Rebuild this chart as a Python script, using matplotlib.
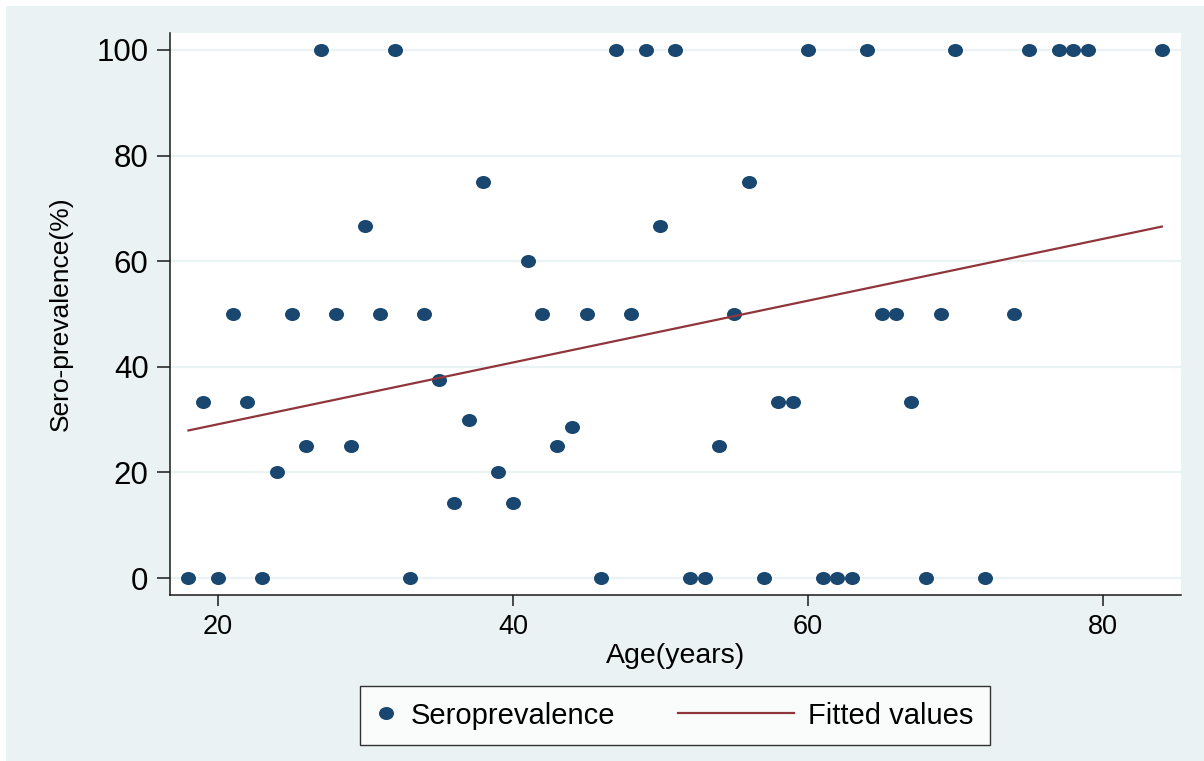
import numpy as np
import matplotlib
matplotlib.use("Agg")
import matplotlib.pyplot as plt
from matplotlib.lines import Line2D
from matplotlib.legend_handler import HandlerLine2D
from matplotlib.markers import MarkerStyle
from matplotlib.path import Path
from matplotlib.transforms import Affine2D
from matplotlib.patches import Rectangle

plt.rcParams['font.family'] = ['Liberation Sans', 'DejaVu Sans']

# data
age = [18, 19, 20, 21, 22, 23, 24, 25, 26, 27, 28, 29, 30, 31, 32, 33, 34, 35,
       36, 37, 38, 39, 40, 41, 42, 43, 44, 45, 46, 47, 48, 49, 50, 51, 52, 53,
       54, 55, 56, 57, 58, 59, 60, 61, 62, 63, 64, 65, 66, 67, 68, 69, 70, 72,
       74, 75, 77, 78, 79, 84]
seroprev = [0, 33.3, 0, 50, 33.3, 0, 20, 50, 25, 100, 50, 25, 66.7, 50, 100, 0,
            50, 37.5, 14.3, 30, 75, 20, 14.3, 60, 50, 25, 28.6, 50, 0, 100, 50,
            100, 66.7, 100, 0, 0, 25, 50, 75, 0, 33.3, 33.3, 100, 0, 0, 0, 100,
            50, 50, 33.3, 0, 50, 100, 0, 50, 100, 100, 100, 100, 100]

x_ticks = [20, 40, 60, 80]
y_ticks = [0, 20, 40, 60, 80, 100]

navy = '#1A476F'
maroon = '#90353B'
bg = '#EAF2F3'

# linear fit
slope, intercept = np.polyfit(age, seroprev, 1)
fit_x = np.array([min(age), max(age)])
fit_y = intercept + slope * fit_x

W, H = 1204, 761
fig = plt.figure(figsize=(W / 100, H / 100), dpi=100)
fig.patch.set_facecolor('white')
fig.patches.append(Rectangle((6 / W, 0), 1 - 6 / W, 1 - 6 / H, transform=fig.transFigure,
                             facecolor=bg, edgecolor='none', zorder=-10))

ax = fig.add_axes([170 / W, 1 - 595 / H, (1181 - 170) / W, (595 - 33) / H])
ax.set_facecolor('white')

ellipse = Path.unit_circle().transformed(Affine2D().scale(1.15, 1.0))
mk = MarkerStyle(ellipse)

ax.plot(age, seroprev, linestyle='none', marker=mk, markersize=10.8,
        color=navy, markeredgewidth=0, zorder=3)
ax.plot(fit_x, fit_y, color=maroon, linewidth=1.6, zorder=4)

ax.set_xlim(16.75, 85.3)
ax.set_ylim(-3.2, 103.2)
ax.set_xticks(x_ticks)
ax.set_yticks(y_ticks)
ax.grid(axis='y', color=bg, linewidth=1.6, zorder=0)
ax.set_axisbelow(True)

for s in ['top', 'right']:
    ax.spines[s].set_visible(False)
for s in ['left', 'bottom']:
    ax.spines[s].set_linewidth(1.1)
    ax.spines[s].set_color('#1a1a1a')

ax.tick_params(axis='y', labelsize=22.5, length=9.4, width=1.1, pad=6, color='#1a1a1a')
ax.tick_params(axis='x', labelsize=19.5, length=8, width=1.1, pad=6, color='#1a1a1a')

ax.set_xlabel('Age(years)', fontsize=20.5, labelpad=2)
ax.set_ylabel('Sero-prevalence(%)', fontsize=19, labelpad=17)


class LongLineHandler(HandlerLine2D):
    def get_xdata(self, legend, xdescent, ydescent, width, height, fontsize):
        x1 = -xdescent + width
        return [x1 - 83, x1], [x1 - 83, x1]


h_pts = Line2D([], [], linestyle='none', marker=mk, markersize=10.8,
               color=navy, markeredgewidth=0)
h_fit = Line2D([], [], color=maroon, linewidth=1.6)
leg = fig.legend([h_pts, h_fit], ['Seroprevalence', 'Fitted values'],
                 handler_map={h_fit: LongLineHandler()},
                 loc='center', bbox_to_anchor=(675 / W, 1 - 715.5 / H),
                 ncol=2, fontsize=21, handlelength=0.68, handletextpad=0.51,
                 columnspacing=5.43, borderpad=0.54, frameon=True, fancybox=False)
leg.get_frame().set_edgecolor('black')
leg.get_frame().set_linewidth(1.0)

fig.savefig('out.png', dpi=100, facecolor=fig.get_facecolor())
